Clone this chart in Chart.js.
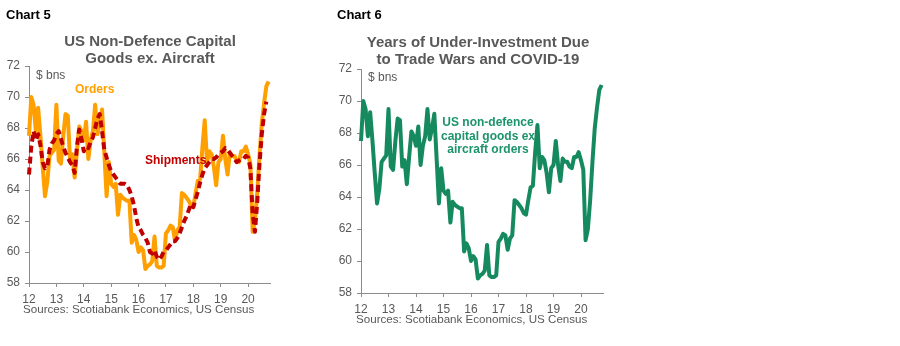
<!DOCTYPE html>
<html><head><meta charset="utf-8">
<script src="https://cdn.jsdelivr.net/npm/chart.js@4.4.1/dist/chart.umd.min.js"></script>
<style>
html,body{margin:0;padding:0;background:#fff;width:900px;height:346px;overflow:hidden;font-family:"Liberation Sans",Arial,sans-serif;}
.abs{position:absolute;white-space:nowrap;z-index:2;}
.cv{position:absolute;top:0;z-index:1;}
.lbl{font-family:"Liberation Sans Narrow","Arial Narrow","Liberation Sans",sans-serif;font-weight:bold;font-size:13px;line-height:14px;color:#000;}
.ttl{font-weight:bold;font-size:15px;color:#595959;text-align:center;line-height:17px;}
.src{font-size:11.6px;line-height:14px;color:#595959;}
.unit{font-size:12px;line-height:14px;color:#595959;}
.note{font-weight:bold;font-size:12px;line-height:13.5px;}
</style></head><body>
<canvas id="c5" class="cv" width="300" height="346" style="left:0px"></canvas>
<canvas id="c6" class="cv" width="300" height="346" style="left:330px"></canvas>

<div class="abs lbl" style="left:6px;top:8px">Chart 5</div>
<div class="abs ttl" style="left:0px;top:32px;width:300px">US Non-Defence Capital<br>Goods ex. Aircraft</div>
<div class="abs unit" style="left:36px;top:68px">$ bns</div>
<div class="abs note" style="left:75px;top:83px;color:#FF9F00">Orders</div>
<div class="abs note" style="left:145px;top:154px;color:#C00000">Shipments</div>
<div class="abs src" style="left:23px;top:302px">Sources: Scotiabank Economics, US Census</div>

<div class="abs lbl" style="left:337px;top:8px">Chart 6</div>
<div class="abs ttl" style="left:328px;top:33px;width:300px">Years of Under-Investment Due<br>to Trade Wars and COVID-19</div>
<div class="abs unit" style="left:368px;top:70px">$ bns</div>
<div class="abs note" style="left:438px;top:116px;width:100px;text-align:center;color:#1C946B">US non-defence<br>capital goods ex<br>aircraft orders</div>
<div class="abs src" style="left:356px;top:312px">Sources: Scotiabank Economics, US Census</div>

<script>
// Monthly data, Jan 2012 onward ($ bns)
const firstYear = 12;
const ordersBn = [
  67.5, 70.0, 69.5, 67.8, 69.3, 67.5, 65.5, 63.6, 64.5, 66.2, 66.4, 66.6,
  69.5, 65.9, 65.7, 67.5, 68.9, 68.8, 65.9, 66.3, 64.8, 66.5, 68.1, 67.8,
  67.2, 68.4, 66.0, 67.2, 67.8, 69.5, 67.6, 68.3, 69.2, 66.4, 63.6, 65.8,
  64.4, 64.2, 64.4, 62.4, 63.7, 63.5, 63.4, 63.3, 63.3, 60.6, 61.1, 60.8,
  60.0, 60.3, 60.1, 58.9, 59.1, 59.2, 59.4, 61.0, 59.1, 59.0, 59.0, 59.1,
  61.2, 61.4, 61.7, 61.6, 60.7, 61.4, 61.6, 63.8, 63.7, 63.5, 63.3, 63.0,
  62.9, 63.8, 64.6, 64.7, 66.8, 68.5, 65.8, 66.5, 66.3, 65.5, 64.3, 65.8,
  66.0, 67.5, 66.0, 65.0, 66.4, 66.2, 66.2, 65.9, 65.8, 66.5, 66.5, 66.8,
  66.3, 65.7, 61.3, 62.0, 63.8, 66.2, 68.3, 69.6, 70.7, 71.0
];
const shipmentsBn = [
  65.0, 66.8, 67.8, 67.2, 67.6, 66.9, 65.8, 65.4, 65.5, 66.6, 67.0, 67.2,
  67.6, 67.8, 67.3, 66.8, 66.4, 66.1, 65.8, 65.6, 65.1, 66.8, 67.9, 67.3,
  66.5, 66.8, 66.7, 67.1, 67.4, 68.0, 68.6, 68.9, 67.8, 66.6, 66.1, 65.6,
  65.2, 65.0, 64.8, 64.6, 64.4, 64.4, 64.4, 64.3, 64.0, 63.6, 63.0, 62.2,
  61.6, 61.4, 61.1, 60.9, 60.6, 60.0, 59.9, 60.1, 59.7, 59.5, 59.7, 60.0,
  60.1, 60.3, 60.5, 60.7, 60.7, 60.9, 61.2, 61.6, 62.0, 62.3, 62.7, 63.1,
  62.9, 63.4, 63.9, 64.5, 65.0, 65.4, 65.6, 65.8, 66.0, 66.0, 66.1, 66.3,
  66.4, 66.5, 66.7, 66.6, 66.4, 66.2, 66.0, 65.8, 65.9, 66.0, 66.0, 66.2,
  66.1, 65.4, 62.5, 61.3, 63.2, 65.7, 67.6, 68.9, 69.7
];
const yearTicks = [12, 13, 14, 15, 16, 17, 18, 19, 20];
const yMin = 58, yMax = 72, yStep = 2;
const xMin = 12, xMax = 20.8;

function toPoints(arr) { return arr.map((v, i) => ({ x: firstYear + i / 12, y: v })); }

const axisColor = '#8C8C8C';
const tickColor = '#595959';
const tickFont = { family: "'Liberation Sans', Arial, sans-serif", size: 12 };

function buildOptions(yWidth, pad) {
  return {
    responsive: false,
    animation: false,
    layout: { padding: pad },
    plugins: { legend: { display: false }, tooltip: { enabled: false }, title: { display: false } },
    elements: { point: { radius: 0 }, line: { tension: 0, borderJoinStyle: 'round' } },
    scales: {
      x: {
        type: 'linear', min: xMin, max: xMax,
        afterBuildTicks: (s) => { s.ticks = yearTicks.map(v => ({ value: v })); },
        afterFit: (s) => { s.height = 25; },
        grid: { display: true, drawOnChartArea: false, drawTicks: true, tickLength: 4, color: axisColor },
        border: { display: true, color: axisColor, width: 1 },
        ticks: { color: tickColor, font: tickFont, padding: 5, maxRotation: 0, autoSkip: false,
                 callback: (v) => String(v) }
      },
      y: {
        type: 'linear', min: yMin, max: yMax,
        afterFit: (s) => { s.width = yWidth; },
        grid: { display: true, drawOnChartArea: false, drawTicks: true, tickLength: 4, color: axisColor },
        border: { display: true, color: axisColor, width: 1 },
        ticks: { color: tickColor, font: tickFont, padding: 5, stepSize: yStep }
      }
    }
  };
}

new Chart(document.getElementById('c5'), {
  type: 'line',
  data: {
    datasets: [
      { label: 'Shipments', data: toPoints(shipmentsBn), borderColor: '#C00000', borderWidth: 4,
        borderDash: [7, 4], borderCapStyle: 'butt', order: 0, clip: false },
      { label: 'Orders', data: toPoints(ordersBn), borderColor: '#FF9F00', borderWidth: 4,
        order: 1, clip: false }
    ]
  },
  options: buildOptions(29, { top: 66, right: 30, bottom: 38, left: 0 })
});

new Chart(document.getElementById('c6'), {
  type: 'line',
  data: {
    datasets: [
      { label: 'US non-defence capital goods ex aircraft orders', data: toPoints(ordersBn),
        borderColor: '#168A5F', borderWidth: 4, clip: false }
    ]
  },
  options: buildOptions(31, { top: 69, right: 27, bottom: 28, left: 0 })
});
</script>
</body></html>
